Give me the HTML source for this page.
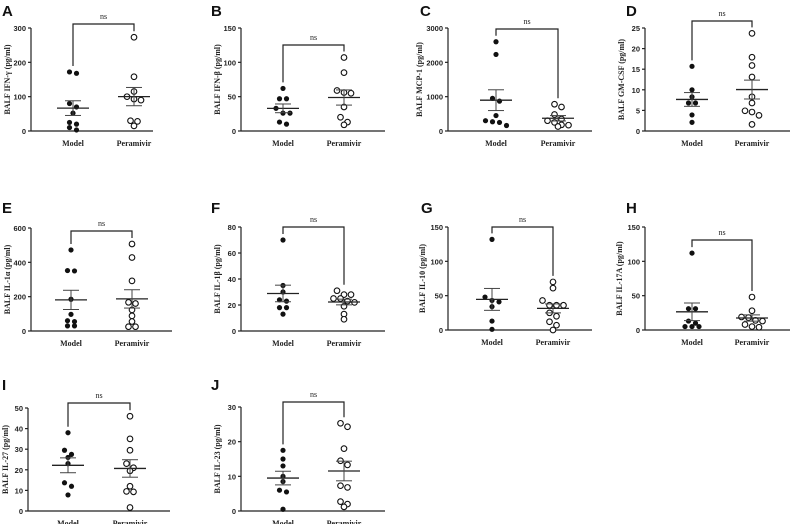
<!DOCTYPE html>
<html><head><meta charset="utf-8">
<style>
html,body{margin:0;padding:0;background:#fff;}
svg{display:block;}
.tick{font:bold 7.5px "Liberation Sans",sans-serif;fill:#222;}
.cat{font:bold 8px "Liberation Serif",serif;fill:#222;}
.ttl{font:bold 8px "Liberation Serif",serif;fill:#222;}
.ns{font:8px "Liberation Serif",serif;fill:#222;}
.let{font:bold 15px "Liberation Sans",sans-serif;fill:#111;}
</style></head>
<body>
<svg id="fig" width="793" height="524" viewBox="0 0 793 524"></svg>
<script>
// ---- data (pg/ml) ----
const categories = ["Model", "Peramivir"];
const modelA = [168,172,80,70,52,25,20,10,3];
const peraA  = [273,158,115,100,93,90,30,28,15];
const modelB = [62,47,47,33,26,26,13,10];
const peraB  = [107,85,59,56,55,35,20,13,9];
const modelC = [2600,2230,950,870,450,300,270,250,160];
const peraC  = [780,700,480,350,300,250,180,170,130];
const modelD = [15.7,10,8.3,6.8,6.8,3.9,2.1];
const peraD  = [23.7,17.9,15.9,13.1,8.3,6.8,4.9,4.6,3.8,1.6];
const modelE = [472,350,352,185,97,55,60,30,30];
const peraE  = [507,428,292,167,160,123,88,55,25,25];
const modelF = [70,35,30,24,23,18,18,13];
const peraF  = [31,28,28,25,25,23,22,19,13,9];
const modelG = [132,48,43,41,34,13,1];
const peraG  = [70,61,43,36,36,36,25,20,12,7,0];
const modelH = [112,31,31,13,10,5,5,5];
const peraH  = [48,28,19,18,14,13,8,5,4];
const modelI = [38,29.5,27.5,26,23,13.7,12,7.8];
const peraI  = [46,35,29.5,23,21,19.5,12,9.5,9.3,1.7];
const modelJ = [17.5,15,13,10,8.5,6,5.5,0.5];
const peraJ  = [25.3,24.3,18,14.5,13.3,7.3,6.8,2.7,2,1.2];
const ticksA = [0,100,200,300];
const ticksB = [0,50,100,150];
const ticksC = [0,1000,2000,3000];
const ticksD = [0,5,10,15,20,25];
const ticksE = [0,200,400,600];
const ticksF = [0,20,40,60,80];
const ticksG = [0,50,100,150];
const ticksH = [0,50,100,150];
const ticksI = [0,10,20,30,40,50];
const ticksJ = [0,10,20,30];
const titles = ["BALF IFN-γ (pg/ml)","BALF IFN-β (pg/ml)","BALF MCP-1 (pg/ml)","BALF GM-CSF (pg/ml)","BALF IL-1α (pg/ml)","BALF IL-1β (pg/ml)","BALF IL-10 (pg/ml)","BALF IL-17A (pg/ml)","BALF IL-27 (pg/ml)","BALF IL-23 (pg/ml)"];
const letters = ["A","B","C","D","E","F","G","H","I","J"];

// ---- layout ----
const panels = [
 {m:modelA,p:peraA,t:ticksA,ax:31,top:28,bot:131,right:153,mx:73,px:134,br:24,lx:2,ly:16,to:21},
 {m:modelB,p:peraB,t:ticksB,ax:241,top:28,bot:131,right:385,mx:283,px:344,br:45,lx:211,ly:16,to:21},
 {m:modelC,p:peraC,t:ticksC,ax:448,top:28,bot:131,right:592,mx:496,px:558,br:29,lx:420,ly:16,to:26},
 {m:modelD,p:peraD,t:ticksD,ax:645,top:28,bot:131,right:790,mx:692,px:752,br:21,lx:626,ly:16,to:21},
 {m:modelE,p:peraE,t:ticksE,ax:31,top:228,bot:331,right:172,mx:71,px:132,br:231,lx:2,ly:213,to:21},
 {m:modelF,p:peraF,t:ticksF,ax:241,top:227,bot:331,right:385,mx:283,px:344,br:227,lx:211,ly:213,to:21},
 {m:modelG,p:peraG,t:ticksG,ax:448,top:227,bot:330,right:592,mx:492,px:553,br:227,lx:421,ly:213,to:23},
 {m:modelH,p:peraH,t:ticksH,ax:645,top:227,bot:330,right:790,mx:692,px:752,br:240,lx:626,ly:213,to:23},
 {m:modelI,p:peraI,t:ticksI,ax:28,top:408,bot:511,right:170,mx:68,px:130,br:403,lx:2,ly:390,to:20},
 {m:modelJ,p:peraJ,t:ticksJ,ax:241,top:407,bot:511,right:385,mx:283,px:344,br:402,lx:211,ly:390,to:21}
];
const NS="http://www.w3.org/2000/svg";
const svg=document.getElementById('fig');
function mk(tag,attrs,parent){const e=document.createElementNS(NS,tag);for(const k in attrs)e.setAttribute(k,attrs[k]);(parent||svg).appendChild(e);return e;}
function stats(a){const n=a.length,m=a.reduce((s,v)=>s+v,0)/n;const sd=Math.sqrt(a.reduce((s,v)=>s+(v-m)*(v-m),0)/(n-1));return [m,sd/Math.sqrt(n)];}
function jitter(vals,y){
  const idx=vals.map((v,i)=>i).sort((a,b)=>y(vals[a])-y(vals[b]));
  const off=new Array(vals.length).fill(0);let g=[];
  const flush=()=>{const k=g.length;g.forEach((id,j)=>{off[id]=(j-(k-1)/2)*7;});g=[];};
  idx.forEach(id=>{if(g.length&&Math.abs(y(vals[id])-y(vals[g[0]]))>5)flush();g.push(id);});flush();
  return off;
}
panels.forEach((P,pi)=>{
  const g=mk('g',{});
  
  
  const maxT=P.t[P.t.length-1];
  const y=v=>P.bot-(v/maxT)*(P.bot-P.top);
  const L=mk('text',{x:P.lx,y:P.ly,class:'let'},g);L.textContent=letters[pi];
  
  const ya=mk('line',{x1:P.ax,y1:P.top,x2:P.ax,y2:P.bot,stroke:'#222','stroke-width':1.2},g);
  
  const xa=mk('line',{x1:P.ax,y1:P.bot,x2:P.right,y2:P.bot,stroke:'#222','stroke-width':1.2},g);
  
  P.t.forEach(t=>{
    mk('line',{x1:P.ax-3,y1:y(t),x2:P.ax,y2:y(t),stroke:'#222','stroke-width':1.2},g);
    const tx=mk('text',{x:P.ax-5,y:y(t)+3,'text-anchor':'end',class:'tick'},g);tx.textContent=t;
    
  });
  const tt=mk('text',{transform:`translate(${P.ax-P.to},${(P.top+P.bot)/2}) rotate(-90)`,'text-anchor':'middle',class:'ttl'},g);
  tt.textContent=titles[pi];
  
  [P.mx,P.px].forEach((cx,ci)=>{
    const c=mk('text',{x:cx,y:P.bot+15,'text-anchor':'middle',class:'cat'},g);c.textContent=categories[ci];
    
  });
  [[P.m,P.mx,true],[P.p,P.px,false]].forEach(([vals,cx,filled])=>{
    const off=jitter(vals,y);
    vals.forEach((v,i)=>{
      const d=mk('circle',{cx:cx+off[i],cy:y(v),r:filled?2.6:2.8,fill:filled?'#111':'#fff',stroke:'#111','stroke-width':filled?0:1.1},g);
      
      
    });
    const [m,se]=stats(vals);
    const ml=mk('line',{x1:cx-16,y1:y(m),x2:cx+16,y2:y(m),stroke:'#222','stroke-width':1.3},g);
    
    mk('line',{x1:cx,y1:y(m-se),x2:cx,y2:y(m+se),stroke:'#444','stroke-width':1},g);
    mk('line',{x1:cx-8,y1:y(m+se),x2:cx+8,y2:y(m+se),stroke:'#444','stroke-width':1},g);
    mk('line',{x1:cx-8,y1:y(m-se),x2:cx+8,y2:y(m-se),stroke:'#444','stroke-width':1},g);
  });
  const lm=Math.max(y(Math.max(...P.m))-6,P.br+3), lp=Math.max(y(Math.max(...P.p))-6,P.br+3);
  const br=mk('path',{d:`M${P.mx},${lm} V${P.br} H${P.px} V${lp}`,fill:'none',stroke:'#222','stroke-width':1.2},g);
  
  const ns=mk('text',{x:(P.mx+P.px)/2,y:P.br-5,'text-anchor':'middle',class:'ns'},g);ns.textContent='ns';
  
});
</script>
</body></html>
